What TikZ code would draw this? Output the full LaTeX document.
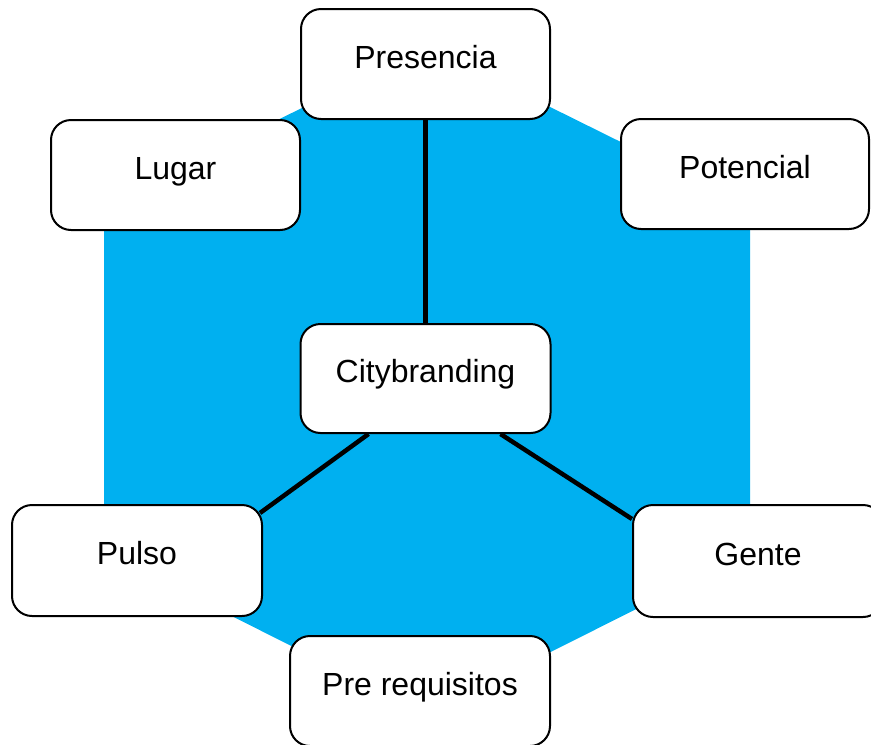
\documentclass[tikz,border=0pt]{standalone}
\usepackage{fontspec}
\setmainfont{Liberation Sans}
\usetikzlibrary{calc,backgrounds}
\definecolor{hexblue}{HTML}{00B0F0}
\begin{document}
\begin{tikzpicture}[x=1pt,y=-1pt,
  box/.style={draw=black, line width=2pt, fill=white, rounded corners=20pt,
    minimum width=250pt, minimum height=110pt, inner sep=0pt,
    font=\fontsize{32}{37}\selectfont, text height=23pt, text depth=15pt},
  link/.style={draw=black, line width=4.5pt}]
\useasboundingbox (0,0) rectangle (871,745);
\clip (0,0) rectangle (871,745);
\node[box, minimum width=249pt] (pres) at (425.5,64) {Presencia};
\node[box, minimum width=249pt] (lugar) at (175.5,175) {Lugar};
\node[box, minimum width=248pt] (pot) at (745,174) {Potencial};
\node[box, minimum height=109pt] (city) at (425.5,378.5) {Citybranding};
\node[box, minimum height=111pt] (pulso) at (137,560.5) {Pulso};
\node[box, minimum height=112pt] (gente) at (758,561) {Gente};
\node[box, minimum width=260pt] (pre) at (420,691) {Pre requisitos};
\begin{scope}[on background layer]
\fill[hexblue] (427,46) -- (750,206) -- (750,552) -- (427,714) -- (104,552) -- (104,206) -- cycle;
\draw[link] (pres.south) -- (city.north);
\draw[link] ($(city.south)+(-57,0)$) -- ($(pulso.north east)+(-3,9)$);
\draw[link] ($(city.south)+(75,0)$) -- ($(gente.north west)+(0,15)$);
\end{scope}
\end{tikzpicture}
\end{document}
